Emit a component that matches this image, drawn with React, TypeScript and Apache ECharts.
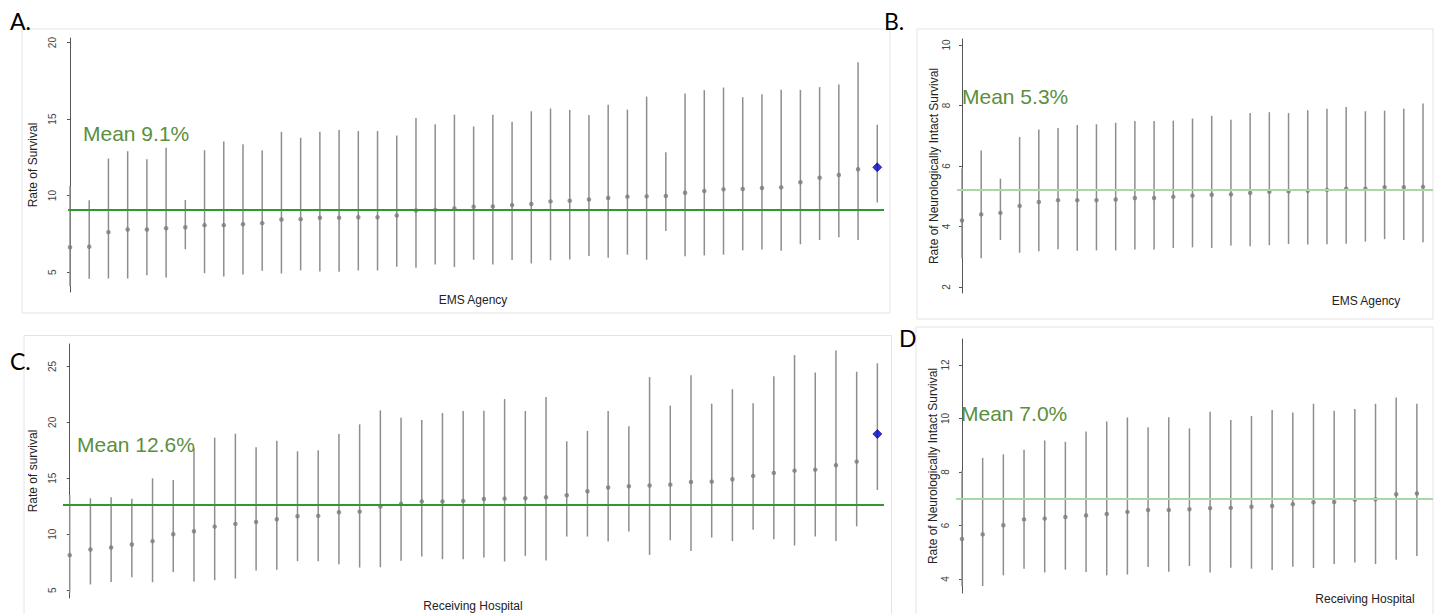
import React, { useEffect, useRef } from "react";
import * as echarts from "echarts";

// ---------- Panel A: Rate of Survival by EMS Agency ----------
const aEst = [6.62, 6.66, 7.61, 7.78, 7.78, 7.87, 7.93, 8.07, 8.07, 8.13, 8.2, 8.44, 8.46, 8.55, 8.55, 8.59, 8.59, 8.7, 9.03, 9.07, 9.16, 9.27, 9.29, 9.38, 9.45, 9.62, 9.66, 9.75, 9.84, 9.93, 9.95, 9.97, 10.19, 10.3, 10.41, 10.43, 10.5, 10.54, 10.87, 11.17, 11.35, 11.72, 11.85];
const aHi = [10.63, 9.69, 12.42, 12.9, 12.38, 13.12, 9.71, 12.97, 13.54, 13.36, 12.97, 14.17, 13.78, 14.17, 14.28, 14.22, 14.22, 13.93, 15.07, 14.66, 15.29, 14.52, 15.29, 14.83, 15.51, 15.69, 15.6, 15.27, 15.93, 15.62, 16.47, 12.84, 16.67, 16.89, 17.06, 16.43, 16.63, 16.91, 16.91, 17.09, 17.26, 18.71, 14.63];
const aLo = [4.08, 4.56, 4.58, 4.58, 4.8, 4.65, 6.49, 4.93, 4.72, 4.85, 5.09, 4.91, 5.11, 5.04, 5.02, 5.11, 5.11, 5.35, 5.28, 5.5, 5.33, 5.81, 5.5, 5.79, 5.57, 5.77, 5.83, 6.05, 5.94, 6.14, 5.81, 7.69, 6.03, 6.09, 6.14, 6.42, 6.47, 6.4, 6.82, 7.1, 7.28, 7.1, 9.55];
const aTicks = [5, 10, 15, 20];

// ---------- Panel B: Neurologically intact survival by EMS Agency ----------
const bEst = [4.2, 4.4, 4.45, 4.68, 4.81, 4.87, 4.87, 4.87, 4.89, 4.94, 4.94, 4.98, 5.02, 5.05, 5.06, 5.11, 5.15, 5.16, 5.18, 5.21, 5.25, 5.25, 5.3, 5.3, 5.31];
const bHi = [5.92, 6.51, 5.58, 6.96, 7.21, 7.26, 7.36, 7.38, 7.43, 7.49, 7.49, 7.5, 7.57, 7.66, 7.53, 7.75, 7.78, 7.75, 7.84, 7.89, 7.95, 7.81, 7.83, 7.89, 8.07];
const bLo = [2.95, 2.95, 3.55, 3.13, 3.18, 3.25, 3.2, 3.21, 3.21, 3.24, 3.24, 3.29, 3.31, 3.29, 3.37, 3.35, 3.38, 3.42, 3.4, 3.41, 3.43, 3.5, 3.58, 3.55, 3.48];
const bTicks = [2, 4, 6, 8, 10];

// ---------- Panel C: Rate of survival by Receiving Hospital ----------
const cEst = [8.13, 8.63, 8.81, 9.08, 9.38, 10.0, 10.27, 10.68, 10.92, 11.1, 11.34, 11.61, 11.64, 11.96, 12.02, 12.47, 12.71, 12.92, 12.92, 12.98, 13.15, 13.18, 13.21, 13.3, 13.48, 13.84, 14.17, 14.29, 14.35, 14.43, 14.67, 14.7, 14.91, 15.21, 15.48, 15.68, 15.77, 16.16, 16.49, 18.96];
const cHi = [13.51, 13.21, 13.3, 13.18, 15.0, 14.85, 17.68, 18.63, 18.99, 17.77, 18.36, 17.41, 17.5, 18.96, 19.82, 21.07, 20.42, 20.21, 20.83, 21.01, 21.04, 22.08, 21.01, 22.26, 18.3, 19.23, 21.01, 19.64, 24.05, 21.49, 24.2, 21.67, 22.96, 21.7, 24.11, 26.01, 24.46, 26.43, 24.52, 25.27];
const cLo = [4.79, 5.51, 5.74, 6.16, 5.71, 6.61, 5.77, 5.89, 6.04, 6.76, 6.82, 7.59, 7.59, 7.32, 7.02, 7.05, 7.62, 8.01, 7.77, 7.77, 7.92, 7.56, 8.07, 7.65, 9.79, 9.79, 9.35, 10.24, 8.15, 9.46, 8.51, 9.7, 9.38, 10.39, 9.55, 8.99, 9.79, 9.4, 10.71, 13.96];
const cTicks = [5, 10, 15, 20, 25];

// ---------- Panel D: Neurologically intact survival by Receiving Hospital ----------
const dEst = [5.5, 5.67, 6.01, 6.23, 6.26, 6.32, 6.38, 6.43, 6.51, 6.58, 6.58, 6.61, 6.65, 6.66, 6.7, 6.73, 6.8, 6.87, 6.88, 6.96, 6.98, 7.17, 7.2];
const dHi = [8.05, 8.53, 8.66, 8.83, 9.18, 9.13, 9.51, 9.89, 10.04, 9.67, 10.05, 9.63, 10.25, 9.94, 10.09, 10.32, 10.22, 10.55, 10.29, 10.35, 10.55, 10.78, 10.55];
const dLo = [3.73, 3.74, 4.14, 4.39, 4.25, 4.35, 4.26, 4.14, 4.17, 4.45, 4.27, 4.49, 4.25, 4.42, 4.39, 4.34, 4.46, 4.41, 4.56, 4.62, 4.56, 4.72, 4.86];
const dTicks = [4, 6, 8, 10, 12];

const meanLines = [9.1, 5.2, 12.6, 7.0];
const meanLabels = ["Mean 9.1%", "Mean 5.3%", "Mean 12.6%", "Mean 7.0%"];
const panelLetters = ["A.", "B.", "C.", "D"];
const yTitles = [
  "Rate of Survival",
  "Rate of Neurologically Intact Survival",
  "Rate of survival",
  "Rate of Neurologically Intact Survival",
];
const xTitles = ["EMS Agency", "EMS Agency", "Receiving Hospital", "Receiving Hospital"];

const AXIS_FONT = "'Liberation Sans', Arial, sans-serif";
const LETTER_FONT = "Lato, 'Open Sans', sans-serif";
const MEAN_COLOR = "#5b8f3d";

type PanelLayout = {
  grid: { left: number; top: number; width: number; height: number };
  xMin: number;
  xMax: number;
  lineStart: number;
  yMin: number;
  yMax: number;
  meanColor: string;
  meanWidth: number;
  highlightLast: boolean;
};

const layouts: PanelLayout[] = [
  { grid: { left: 63, top: 38, width: 821, height: 254 }, xMin: -0.364, xMax: 42.35, lineStart: -0.1, yMin: 3.7, yMax: 20.3, meanColor: "#2f982f", meanWidth: 2, highlightLast: true },
  { grid: { left: 957, top: 39, width: 476, height: 254 }, xMin: -0.26, xMax: 24.52, lineStart: -0.26, yMin: 1.8, yMax: 10.2, meanColor: "#a6d9a6", meanWidth: 2, highlightLast: false },
  { grid: { left: 63, top: 344, width: 821, height: 254 }, xMin: -0.324, xMax: 39.32, lineStart: -0.324, yMin: 4.3, yMax: 27, meanColor: "#2f982f", meanWidth: 2, highlightLast: true },
  { grid: { left: 956, top: 339, width: 477, height: 254 }, xMin: -0.29, xMax: 22.78, lineStart: -0.29, yMin: 3.48, yMax: 12.97, meanColor: "#a6d9a6", meanWidth: 2, highlightLast: false },
];

const panelData = [
  { est: aEst, lo: aLo, hi: aHi, ticks: aTicks },
  { est: bEst, lo: bLo, hi: bHi, ticks: bTicks },
  { est: cEst, lo: cLo, hi: cHi, ticks: cTicks },
  { est: dEst, lo: dLo, hi: dHi, ticks: dTicks },
];

function buildOption() {
  const grid: any[] = [];
  const xAxis: any[] = [];
  const yAxis: any[] = [];
  const series: any[] = [];

  layouts.forEach((L, p) => {
    const d = panelData[p];
    grid.push({ ...L.grid, containLabel: false });
    xAxis.push({
      gridIndex: p,
      type: "value",
      min: L.xMin,
      max: L.xMax,
      show: false,
    });
    yAxis.push({
      gridIndex: p,
      type: "value",
      min: L.yMin,
      max: L.yMax,
      axisLine: { show: true, lineStyle: { color: "#555", width: 1 } },
      axisTick: { show: true, length: 3, customValues: d.ticks, lineStyle: { color: "#555" } },
      axisLabel: {
        customValues: d.ticks,
        rotate: 90,
        margin: 6,
        fontSize: 10,
        color: "#444",
        fontFamily: AXIS_FONT,
      },
      splitLine: { show: false },
      name: yTitles[p],
      nameLocation: "middle",
      nameGap: 17,
      nameTextStyle: { fontSize: 12, color: "#222", fontFamily: AXIS_FONT },
    });

    series.push({
      type: "custom",
      xAxisIndex: p,
      yAxisIndex: p,
      silent: true,
      data: d.est.map((_, i) => [i, d.lo[i], d.hi[i]]),
      encode: { x: 0, y: [1, 2] },
      renderItem: (params: any, api: any) => {
        const x = api.value(0);
        const p1 = api.coord([x, api.value(1)]);
        const p2 = api.coord([x, api.value(2)]);
        return {
          type: "line",
          shape: { x1: p1[0], y1: p1[1], x2: p2[0], y2: p2[1] },
          style: { stroke: "#8e8e8e", lineWidth: 1.5 },
        };
      },
    });

    const n = d.est.length;
    series.push({
      type: "scatter",
      xAxisIndex: p,
      yAxisIndex: p,
      silent: true,
      symbol: "circle",
      symbolSize: 4.5,
      itemStyle: { color: "#7b7b7b" },
      data: d.est.map((v, i) =>
        L.highlightLast && i === n - 1
          ? {
              value: [i, v],
              symbol: "diamond",
              symbolSize: 9,
              itemStyle: { color: "#0000cc", borderColor: "#000080", borderWidth: 0.8 },
            }
          : [i, v]
      ),
      markLine: {
        silent: true,
        symbol: "none",
        label: { show: false },
        lineStyle: { color: L.meanColor, width: L.meanWidth, type: "solid" },
        data: [[{ coord: [L.lineStart, meanLines[p]] }, { coord: [L.xMax, meanLines[p]] }]],
      },
      z: 3,
    });
  });

  const frames = [
    { x: 22, y: 29, w: 868, h: 284 },
    { x: 917, y: 29, w: 516, h: 290 },
    { x: 24, y: 335.5, w: 867.5, h: 290 },
    { x: 916, y: 327, w: 517, h: 300 },
  ];
  const letterPos = [
    { x: 10, y: 21 },
    { x: 884, y: 21 },
    { x: 10, y: 361 },
    { x: 899, y: 337.5 },
  ];
  const meanPos = [
    { x: 83, y: 133 },
    { x: 962, y: 96.5 },
    { x: 77, y: 444 },
    { x: 961, y: 413.5 },
  ];
  const xTitlePos = [
    { x: 473, y: 299.5 },
    { x: 1366, y: 300.5 },
    { x: 473, y: 606 },
    { x: 1365, y: 599 },
  ];

  const graphic: any[] = [];
  frames.forEach((f) => {
    graphic.push({
      type: "rect",
      silent: true,
      z: -10,
      shape: { x: f.x, y: f.y, width: f.w, height: f.h },
      style: { fill: "none", stroke: "#e4e4e4", lineWidth: 1 },
    });
  });
  letterPos.forEach((pnt, p) => {
    graphic.push({
      type: "text",
      silent: true,
      x: pnt.x,
      y: pnt.y,
      z: 10,
      style: {
        text: panelLetters[p],
        font: `23px ${LETTER_FONT}`,
        fill: "#000",
        align: "left",
        verticalAlign: "middle",
      },
    });
  });
  meanPos.forEach((pnt, p) => {
    graphic.push({
      type: "text",
      silent: true,
      x: pnt.x,
      y: pnt.y,
      z: 10,
      style: {
        text: meanLabels[p],
        font: `21px ${AXIS_FONT}`,
        fill: MEAN_COLOR,
        align: "left",
        verticalAlign: "middle",
      },
    });
  });
  xTitlePos.forEach((pnt, p) => {
    graphic.push({
      type: "text",
      silent: true,
      x: pnt.x,
      y: pnt.y,
      z: 10,
      style: {
        text: xTitles[p],
        font: `12px ${AXIS_FONT}`,
        fill: "#222",
        align: "center",
        verticalAlign: "middle",
      },
    });
  });

  return {
    animation: false,
    backgroundColor: "#ffffff",
    grid,
    xAxis,
    yAxis,
    series,
    graphic,
  };
}

export default function App() {
  const ref = useRef<HTMLDivElement>(null);
  useEffect(() => {
    if (!ref.current) return;
    const chart = echarts.init(ref.current, null, { renderer: "svg" });
    chart.setOption(buildOption() as any);
    return () => chart.dispose();
  }, []);
  return (
    <div
      ref={ref}
      style={{ position: "absolute", left: 0, top: 0, width: 1437, height: 614, background: "#fff" }}
    />
  );
}
